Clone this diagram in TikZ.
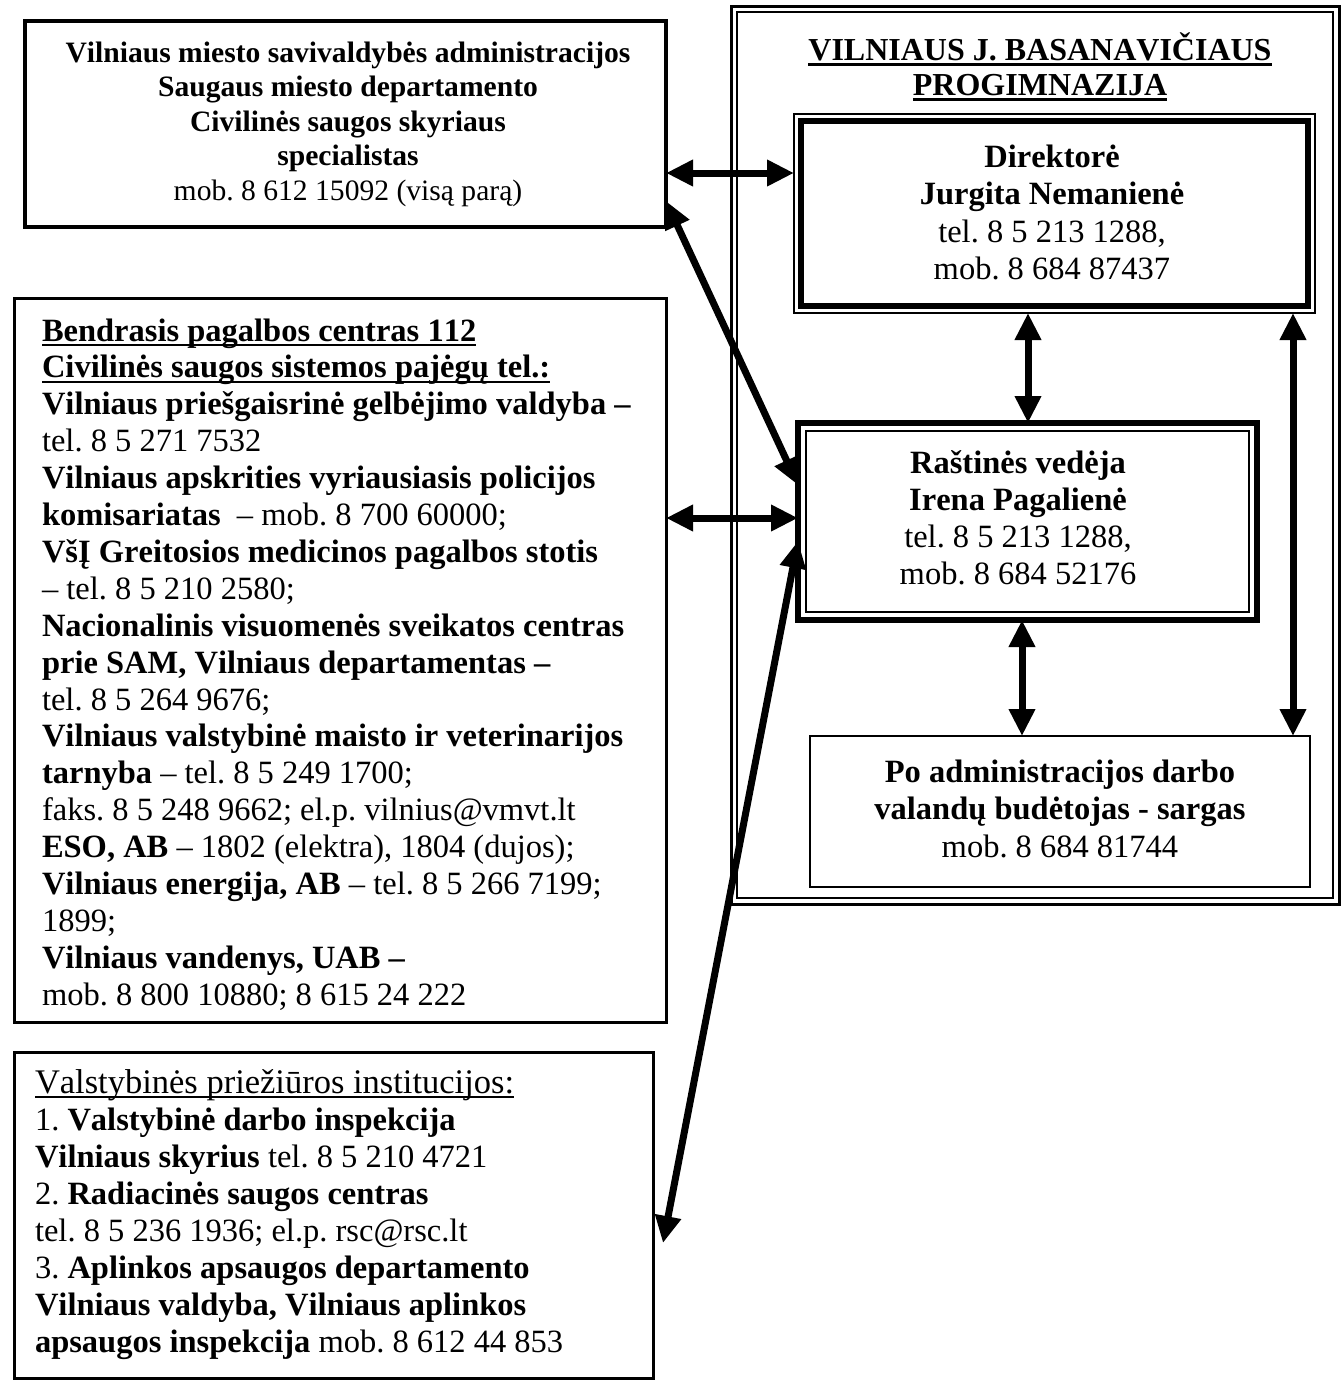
\documentclass[tikz,border=0pt]{standalone}
\usepackage{fontspec}
\setmainfont[Kerning=Off]{Liberation Serif}
\usetikzlibrary{arrows.meta}
\frenchspacing
\newcommand{\myul}[1]{\setbox0=\hbox{#1}\rlap{\rule[-5pt]{\wd0}{2pt}}\box0}
\newcommand{\myulT}[1]{\setbox0=\hbox{#1}\rlap{\rule[-6pt]{\wd0}{3pt}}\box0}
\tikzset{
  box/.style={draw, rectangle, inner sep=0pt, outer sep=0pt, anchor=north west},
  arr/.style={line width=7pt, {Triangle[length=27pt,width=25pt]}-{Triangle[length=27pt,width=25pt]}},
  txt/.style={inner sep=0pt, outer sep=0pt},
}
\begin{document}
\begin{tikzpicture}[x=1pt,y=-1pt]
\useasboundingbox[fill=white] (0,0) rectangle (1343,1382);

% ---------- left boxes ----------
\node[box, line width=4pt, minimum width=641pt, minimum height=206pt] (A) at (25,21) {};
\node[txt, anchor=north, align=center, font=\fontsize{29.6}{34.5}\selectfont] (Atxt) at (348,37.9)
 {\strut\textbf{Vilniaus miesto savivaldybės administracijos}\\
  \textbf{Saugaus miesto departamento}\\
  \textbf{Civilinės saugos skyriaus}\\
  \textbf{specialistas}\\
  mob. 8 612 15092 (visą parą)};

\node[box, line width=3pt, minimum width=652pt, minimum height=724pt] (B) at (14,298) {};
\node[txt, anchor=north west, align=left, font=\fontsize{32.5}{36.9}\selectfont] (Btxt) at (42,315.2)
 {\strut\myul{\bfseries Bendrasis pagalbos centras 112}\\
  \myul{\bfseries Civilinės saugos sistemos pajėgų tel.:}\\
  \textbf{Vilniaus priešgaisrinė gelbėjimo valdyba –}\\
  tel. 8 5 271 7532\\
  \textbf{Vilniaus apskrities vyriausiasis policijos}\\
  \textbf{komisariatas}\ \ – mob. 8 700 60000;\\
  \textbf{VšĮ Greitosios medicinos pagalbos stotis}\\
  – tel. 8 5 210 2580;\\
  \textbf{Nacionalinis visuomenės sveikatos centras}\\
  \textbf{prie SAM, Vilniaus departamentas –}\\
  tel. 8 5 264 9676;\\
  \textbf{Vilniaus valstybinė maisto ir veterinarijos}\\
  \textbf{tarnyba} – tel. 8 5 249 1700;\\
  faks. 8 5 248 9662; el.p. vilnius@vmvt.lt\\
  \textbf{ESO, AB} – 1802 (elektra), 1804 (dujos);\\
  \textbf{Vilniaus energija, AB} – tel. 8 5 266 7199;\\
  1899;\\
  \textbf{Vilniaus vandenys, UAB –}\\
  mob. 8 800 10880; 8 615 24 222};

\node[box, line width=3pt, minimum width=639pt, minimum height=326pt] (C) at (14,1052) {};
\node[txt, anchor=north west, align=left, font=\fontsize{32.5}{37}\selectfont] (Ctxt) at (35,1067.1)
 {\strut\myul{\fontsize{34.5}{37}\selectfont Valstybinės priežiūros institucijos:}\\
  1. \textbf{Valstybinė darbo inspekcija}\\
  \textbf{Vilniaus skyrius} tel. 8 5 210 4721\\
  2. \textbf{Radiacinės saugos centras}\\
  tel. 8 5 236 1936; el.p. rsc@rsc.lt\\
  3. \textbf{Aplinkos apsaugos departamento}\\
  \textbf{Vilniaus valdyba, Vilniaus aplinkos}\\
  \textbf{apsaugos inspekcija} mob. 8 612 44 853};

% ---------- school frame ----------
\node[box, line width=3pt, minimum width=608pt, minimum height=898pt] (S) at (731,6) {};
\draw[line width=1.5pt] ([shift={(6pt,-6pt)}]S.north west) rectangle ([shift={(-6pt,6pt)}]S.south east);
\node[txt, anchor=north, align=center, font=\fontsize{32}{35}\selectfont] (Stitle) at (1040,32.5)
 {\strut\myulT{\bfseries VILNIAUS J. BASANAVIČIAUS}\\
  \myulT{\bfseries PROGIMNAZIJA}};

% Director
\node[box, line width=2pt, minimum width=521pt, minimum height=199pt] (D) at (794,114) {};
\draw[line width=6pt] ([shift={(7pt,-7pt)}]D.north west) rectangle ([shift={(-7pt,7pt)}]D.south east);
\node[txt, anchor=north, align=center, font=\fontsize{32.5}{37.5}\selectfont] (Dtxt) at (1052,140.8)
 {\strut\textbf{Direktorė}\\
  \textbf{Jurgita Nemanienė}\\
  tel. 8 5 213 1288,\\
  mob. 8 684 87437};

% Office manager
\node[box, line width=6pt, minimum width=459pt, minimum height=197pt] (R) at (798,423) {};
\draw[line width=2pt] ([shift={(8pt,-8pt)}]R.north west) rectangle ([shift={(-8pt,8pt)}]R.south east);
\node[txt, anchor=north, align=center, font=\fontsize{32.5}{37}\selectfont] (Rtxt) at (1018,447.1)
 {\strut\textbf{Raštinės vedėja}\\
  \textbf{Irena Pagalienė}\\
  tel. 8 5 213 1288,\\
  mob. 8 684 52176};

% Guard
\node[box, line width=2.5pt, minimum width=500pt, minimum height=151pt] (P) at (810,736) {};
\node[txt, anchor=north, align=center, font=\fontsize{32.5}{37.5}\selectfont] (Ptxt) at (1060,755.8)
 {\strut\textbf{Po administracijos darbo}\\
  \textbf{valandų budėtojas - sargas}\\
  mob. 8 684 81744};

% ---------- connectors ----------
\coordinate (cend) at (663,1243);
\draw[arr] (A.east |- 0,173) -- (D.west |- 0,173);
\draw[arr] (A.east |- 0,201) -- (R.west |- 0,485);
\draw[arr] (B.east |- 0,518) -- (R.west |- 0,518);
\draw[arr] (R.west |- 0,541) -- (cend);
\draw[arr] (D.south -| 1028,0) -- (R.north -| 1028,0);
\draw[arr] (R.south -| 1022,0) -- (P.north -| 1022,0);
\draw[arr] (D.south -| 1293,0) -- (P.north -| 1293,0);
\end{tikzpicture}
\end{document}
